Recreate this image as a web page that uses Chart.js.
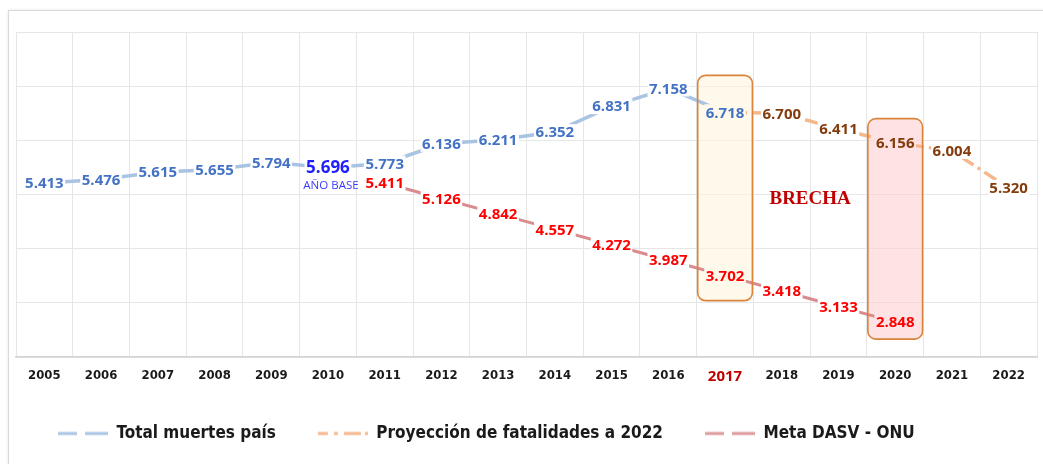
<!DOCTYPE html>
<html><head><meta charset="utf-8">
<script src="https://cdn.jsdelivr.net/npm/chart.js@4.4.0/dist/chart.umd.min.js"></script>
<style>
html,body{margin:0;padding:0;background:#fff;}
#wrap{position:relative;width:1043px;height:464px;overflow:hidden;}
#panel{position:absolute;left:8px;top:10px;width:1040px;height:470px;border:1px solid #d9d9d9;box-shadow:0 0 3px rgba(0,0,0,0.10);background:#fff;}
canvas{position:absolute;left:0;top:0;}
</style></head><body>
<div id="wrap"><div id="panel"></div><canvas id="c" width="1043" height="464" style="width:1043px;height:464px"></canvas></div>
<script>
// ---- data ----
const years = ['2005','2006','2007','2008','2009','2010','2011','2012','2013','2014','2015','2016','2017','2018','2019','2020','2021','2022'];
const totalMuertes = [5413,5476,5615,5655,5794,5696,5773,6136,6211,6352,6831,7158,6718,null,null,null,null,null];
const proyeccion   = [null,null,null,null,null,null,null,null,null,null,null,null,6718,6700,6411,6156,6004,5320];
const metaDASV     = [null,null,null,null,null,null,5411,5126,4842,4557,4272,3987,3702,3418,3133,2848,null,null];
const seriesNames = ['Total muertes país','Proyección de fatalidades a 2022','Meta DASV - ONU'];
const yGridValues = [2200,3200,4200,5200,6200,7200,8200];
const baseYear = '2010';
const baseLabel = 'AÑO BASE';
const highlightYear = '2017';
const boxYears = ['2017','2020'];
const boxTops = [7400,6600];
const boxBottoms = [3240,2530];
const gapText = 'BRECHA';
const gapYears = ['2018','2019'];
const gapValue = 5120;

const fmt = v => Math.floor(v/1000) + '.' + String(Math.round(v%1000)).padStart(3,'0');
const LF = '"DejaVu Sans Condensed","DejaVu Sans",sans-serif';
const DF = '"Open Sans",sans-serif';
const boxFills = ['rgba(255,245,223,0.6)','rgba(255,208,210,0.6)'];
const boxSolid = ['#fff9ec','#ffe3e4'];

function icon(color, segs){
  const c = document.createElement('canvas');
  c.width = 80; c.height = 6;
  const g = c.getContext('2d');
  g.fillStyle = color;
  segs.forEach(s => g.fillRect(30 + s[0], 1.5, s[1]-s[0], 3));
  return c;
}
const icons = [
  icon('#a9c4e3', [[0,19],[27,50]]),
  icon('#f5b88c', [[0,10],[16,20],[26,43],[47,52]]),
  icon('#dd9a9c', [[0,19],[27,50]])
];

const labelColors = ['#4472c4','#843c0c','#ff0000'];

function boxRects(chart){
  const xs = chart.scales.x, ys = chart.scales.y;
  const half = (xs.getPixelForValue(1) - xs.getPixelForValue(0)) / 2;
  return boxYears.map((yr, k) => {
    const cx = xs.getPixelForValue(years.indexOf(yr));
    return { x0: cx - half + 1, x1: cx + half - 1, y0: ys.getPixelForValue(boxTops[k]), y1: ys.getPixelForValue(boxBottoms[k]) };
  });
}

const overlay = {
  id: 'overlay',
  beforeDatasetsDraw(chart){
    const ctx = chart.ctx;
    ctx.save();
    boxRects(chart).forEach((r, k) => {
      ctx.beginPath();
      ctx.roundRect(r.x0, r.y0, r.x1 - r.x0, r.y1 - r.y0, 8);
      ctx.fillStyle = boxFills[k]; ctx.fill();
    });
    ctx.restore();
  },
  afterDatasetsDraw(chart){
    const ctx = chart.ctx, xs = chart.scales.x, ys = chart.scales.y;
    const rects = boxRects(chart);
    ctx.save();
    ctx.textAlign = 'center'; ctx.textBaseline = 'middle';
    chart.data.datasets.forEach((ds, di) => {
      const meta = chart.getDatasetMeta(di);
      ds.data.forEach((v, i) => {
        if (v == null) return;
        if (di === 1 && chart.data.datasets[0].data[i] != null) return;
        const p = meta.data[i];
        let font = 'bold 15px ' + DF, color = labelColors[di];
        if (di === 0 && years[i] === baseYear) { font = 'bold 17px ' + DF; color = '#1f1fff'; }
        ctx.font = font;
        const t = fmt(v);
        const w = ctx.measureText(t).width;
        let bg = '#fff';
        rects.forEach((r, k) => { if (p.x > r.x0 && p.x < r.x1 && p.y > r.y0 && p.y < r.y1) bg = boxSolid[k]; });
        ctx.fillStyle = bg;
        ctx.fillRect(p.x - w/2 - 1.5, p.y - 8, w + 3, 16);
        ctx.fillStyle = color;
        ctx.fillText(t, p.x, p.y + 1);
        if (di === 0 && years[i] === baseYear) {
          ctx.font = '11.5px ' + DF;
          ctx.fillStyle = '#3a3aff';
          ctx.fillText(baseLabel, p.x + 3, p.y + 18);
        }
      });
    });
    // box outlines
    rects.forEach(r => {
      ctx.beginPath();
      ctx.roundRect(r.x0, r.y0, r.x1 - r.x0, r.y1 - r.y0, 8);
      ctx.lineWidth = 1.6; ctx.strokeStyle = '#d9843a'; ctx.stroke();
    });
    // BRECHA
    const gx = (xs.getPixelForValue(years.indexOf(gapYears[0])) + xs.getPixelForValue(years.indexOf(gapYears[1]))) / 2;
    ctx.font = 'bold 19px "Liberation Serif",serif';
    ctx.fillStyle = '#c00000';
    ctx.fillText(gapText, gx, ys.getPixelForValue(gapValue));
    ctx.restore();
  }
};

new Chart(document.getElementById('c'), {
  type: 'line',
  data: {
    labels: years,
    datasets: [
      { label: seriesNames[0], data: totalMuertes, borderColor: '#a9c4e3', borderWidth: 3.5, pointRadius: 0, tension: 0, spanGaps: false },
      { label: seriesNames[1], data: proyeccion, borderColor: '#f5b88c', borderWidth: 3.5, borderDash: [14,5,3,5], pointRadius: 0, tension: 0 },
      { label: seriesNames[2], data: metaDASV, borderColor: '#d98b8e', borderWidth: 3, pointRadius: 0, tension: 0 }
    ]
  },
  options: {
    responsive: false,
    animation: false,
    layout: { padding: { left: 16, right: 6, top: 32, bottom: 12 } },
    scales: {
      x: {
        offset: true,
        grid: { color: '#e6e6e6', drawTicks: false, offset: true },
        border: { color: '#d4d4d4', width: 1.5 },
        ticks: {
          padding: 11,
          color: c => years[c.index] === highlightYear ? '#c00000' : '#1a1a1a',
          font: c => years[c.index] === highlightYear ? { family: DF, size: 15, weight: 'bold' } : { family: LF, size: 13, weight: 'bold' }
        },
        afterFit: s => { s.height = 56; }
      },
      y: {
        min: yGridValues[0], max: yGridValues[yGridValues.length-1],
        afterBuildTicks: s => { s.ticks = yGridValues.map(v => ({ value: v })); },
        grid: { color: '#e6e6e6', drawTicks: false },
        border: { display: false },
        ticks: { display: false },
        afterFit: s => { s.width = 0; }
      }
    },
    plugins: {
      tooltip: { enabled: false },
      legend: {
        position: 'bottom',
        align: 'start',
        labels: {
          usePointStyle: true,
          pointStyleWidth: 80,
          boxHeight: 6,
          padding: 12,
          color: '#1a1a1a',
          font: { family: LF, size: 17, weight: 'bold' },
          generateLabels: chart => Chart.defaults.plugins.legend.labels.generateLabels(chart).map((l, i) => Object.assign(l, { pointStyle: icons[i] }))
        }
      }
    }
  },
  plugins: [overlay]
});
</script>
</body></html>
